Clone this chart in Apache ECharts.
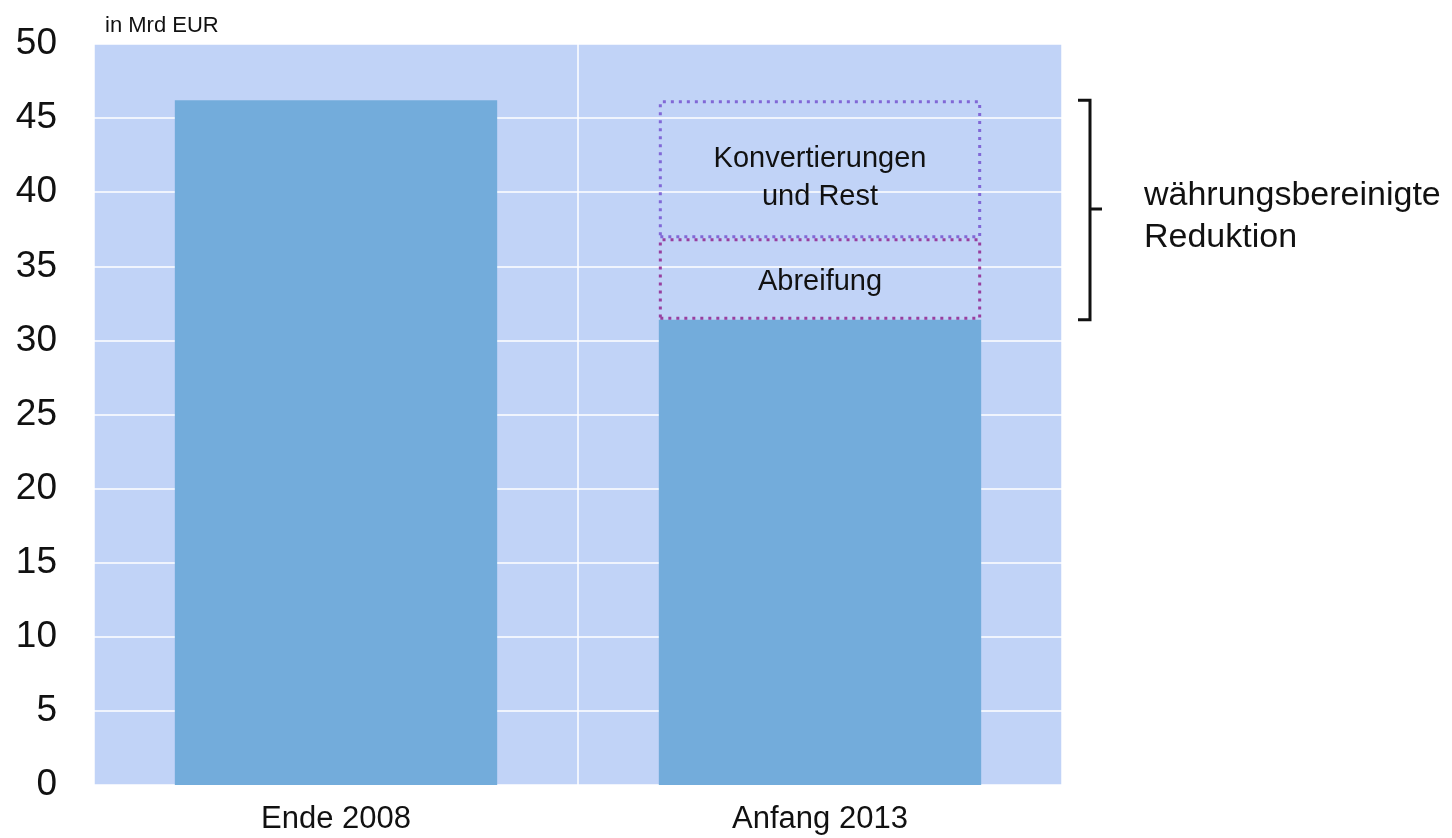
<!DOCTYPE html>
<html>
<head>
<meta charset="utf-8">
<script src="https://cdn.jsdelivr.net/npm/echarts@6/dist/echarts.min.js"></script>
<style>
  html, body { margin: 0; padding: 0; background: #fff; }
  #chart { width: 1452px; height: 838px; }
</style>
</head>
<body>
<div id="chart"></div>
<script>
// data, in Mrd EUR
const categories = ['Ende 2008', 'Anfang 2013'];
const baseValues = [46.2, 31.4];
const abreifungValues = ['-', 5.5];
const konvertValues = ['-', 9.3];
const yTicks = [0, 5, 10, 15, 20, 25, 30, 35, 40, 45, 50];

const font = '"Liberation Sans", Arial, sans-serif';
const chart = echarts.init(document.getElementById('chart'));

const boxStyle = (color) => ({
    color: 'rgba(0,0,0,0)',
    borderColor: color,
    borderWidth: 3,
    borderType: [3, 5]
});

chart.setOption({
    animation: false,
    textStyle: { fontFamily: font },
    grid: {
        left: 94, right: 390, top: 44, bottom: 53,
        show: true,
        backgroundColor: '#c1d3f7',
        borderWidth: 0
    },
    xAxis: {
        type: 'category',
        data: categories,
        axisLine: { show: false },
        axisTick: { show: false },
        axisLabel: { color: '#111', fontSize: 31, margin: 19, fontFamily: font },
        splitLine: { show: true, lineStyle: { color: '#ffffff', width: 1.5 } }
    },
    yAxis: {
        type: 'value',
        min: yTicks[0],
        max: yTicks[yTicks.length - 1],
        interval: 5,
        name: 'in Mrd EUR',
        nameLocation: 'end',
        nameGap: 7,
        nameTextStyle: { color: '#111', fontSize: 22, align: 'left', padding: [0, 0, 0, 11], fontFamily: font },
        axisLine: { show: false },
        axisTick: { show: false },
        axisLabel: { color: '#111', fontSize: 37, margin: 37, fontFamily: font },
        splitLine: { show: true, lineStyle: { color: '#ffffff', width: 1.5 } }
    },
    series: [
        {
            name: 'Bestand',
            type: 'bar',
            stack: 'total',
            barWidth: '66.6%',
            data: baseValues,
            itemStyle: { color: '#73acdb' },
            z: 2
        },
        {
            name: 'Abreifung',
            type: 'bar',
            stack: 'total',
            data: abreifungValues,
            itemStyle: boxStyle('#983f9f'),
            label: {
                show: true, position: 'inside', formatter: 'Abreifung',
                color: '#111', fontSize: 29, offset: [0, 3], fontFamily: font
            },
            z: 4
        },
        {
            name: 'Konvertierungen',
            type: 'bar',
            stack: 'total',
            data: konvertValues,
            itemStyle: boxStyle('#8168d6'),
            label: {
                show: true, position: 'inside', formatter: 'Konvertierungen\nund Rest',
                color: '#111', fontSize: 29, lineHeight: 38, offset: [0, 9], fontFamily: font
            },
            z: 3
        }
    ]
});

// bracket marking the currency-adjusted reduction
const yLow = chart.convertToPixel({ yAxisIndex: 0 }, baseValues[1]);
const yHigh = chart.convertToPixel({ yAxisIndex: 0 }, baseValues[1] + abreifungValues[1] + konvertValues[1]);
const yTick = 209;
const bx = 1090;

chart.setOption({
    graphic: [
        {
            type: 'polyline',
            shape: { points: [[1078, yHigh], [bx, yHigh], [bx, yLow], [1078, yLow]] },
            style: { stroke: '#111', lineWidth: 3, fill: null }
        },
        {
            type: 'line',
            shape: { x1: bx, y1: yTick, x2: 1102, y2: yTick },
            style: { stroke: '#111', lineWidth: 3 }
        },
        {
            type: 'text',
            left: 1144,
            top: 175,
            style: {
                text: 'währungsbereinigte\nReduktion',
                fill: '#111',
                fontSize: 34,
                lineHeight: 42,
                fontFamily: font
            }
        }
    ]
});
</script>
</body>
</html>
